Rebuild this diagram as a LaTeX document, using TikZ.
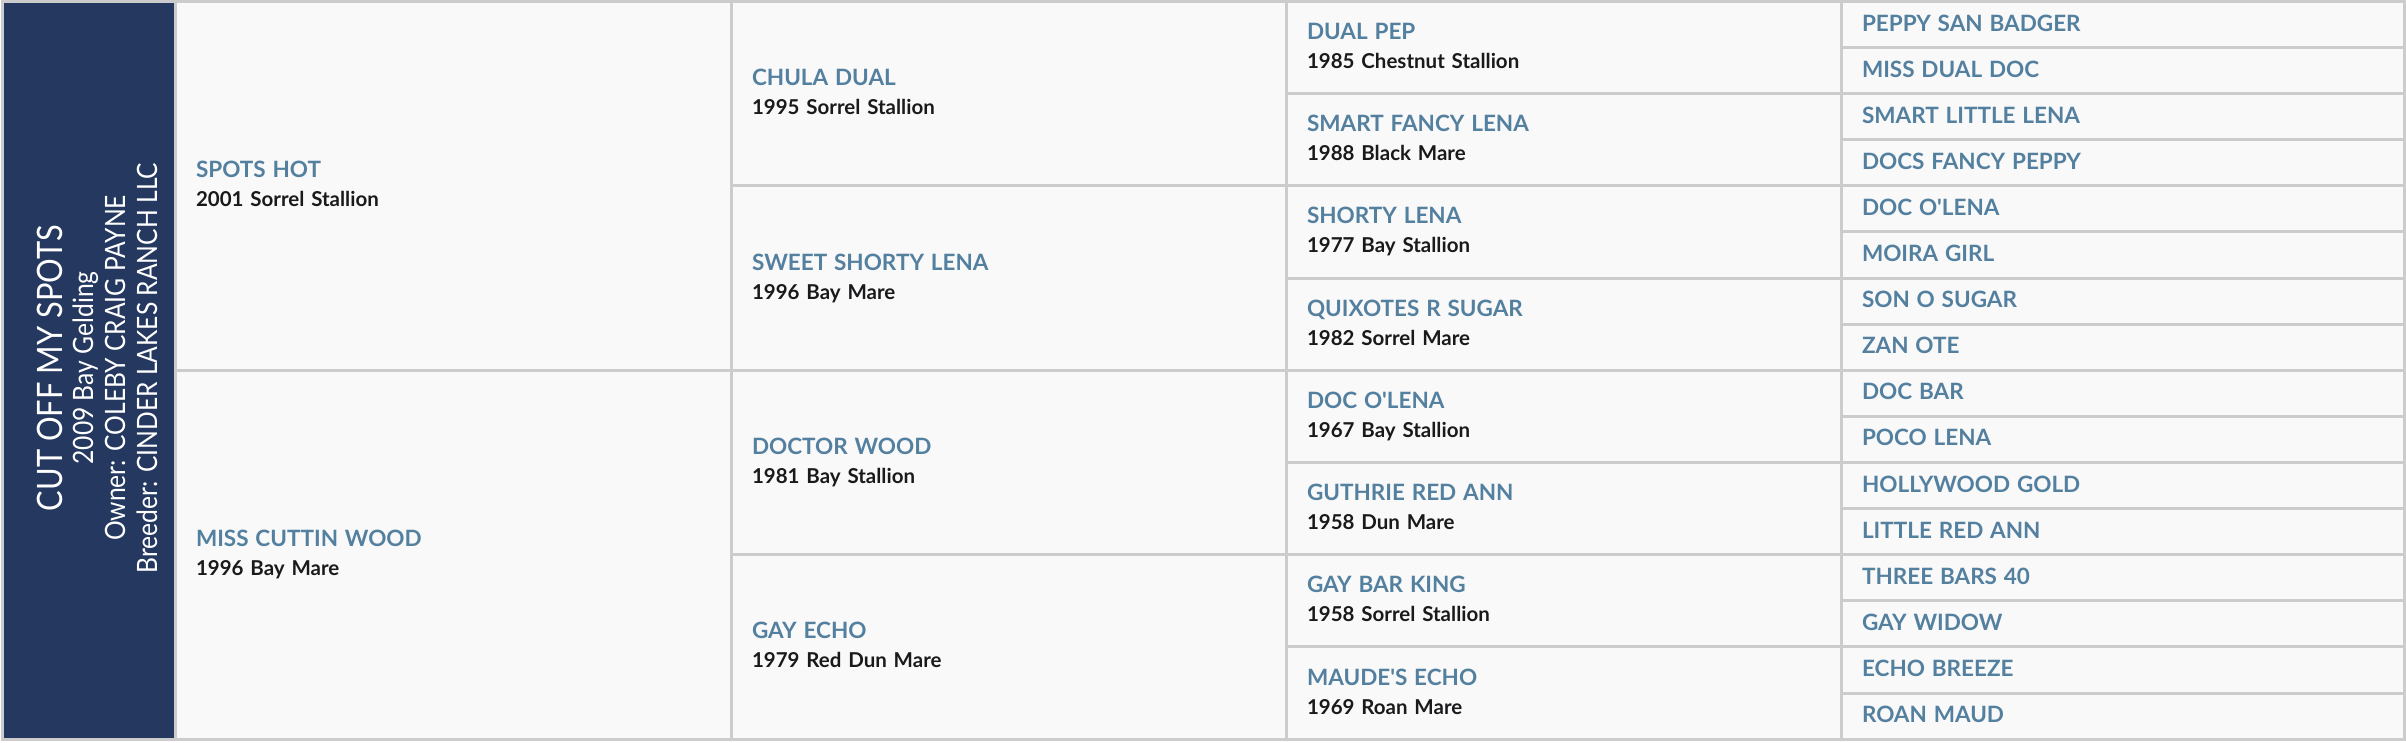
\documentclass[tikz,border=0pt]{standalone}
\usepackage{fontspec}
\setmainfont{Lato}[BoldFont={Lato Bold}]
\newfontfamily\panelfont[FakeStretch=0.88]{Lato}
\usetikzlibrary{positioning}

\definecolor{panel_navy}{RGB}{36,56,96}
\definecolor{name_blue}{RGB}{84,128,160}
\definecolor{info_black}{RGB}{26,26,28}
\definecolor{grid_grey}{RGB}{204,204,204}
\definecolor{cell_fill}{RGB}{249,249,249}

\newcommand{\horsename}[1]{{\color{name_blue}\fontsize{22.5}{29}\selectfont #1}}

\begin{document}
\begin{tikzpicture}[x=1pt, y=1pt,
    cell_box/.style ={rectangle, draw=grid_grey, line width=3pt, fill=cell_fill,
      anchor=north west, outer sep=0pt, inner xsep=21pt, inner ysep=0pt,
      align=left, text=info_black, text height=16pt, text depth=32pt,
      font=\bfseries\fontsize{20.5}{29}\selectfont},
    cell_gen1/.style ={cell_box, minimum width=556pt, text width=514pt, minimum height=368.8pt},
    cell_gen2/.style ={cell_box, minimum width=555pt, text width=513pt, minimum height=184.4pt},
    cell_gen3/.style ={cell_box, minimum width=555pt, text width=513pt, minimum height=92.2pt},
    cell_gen4/.style ={cell_box, minimum width=563pt, text width=521pt, minimum height=46.1pt,
      text depth=3pt},
    panel_text/.style ={rotate=90, anchor=base, text=white,
      font=\panelfont\fontsize{28}{32}\selectfont}]
    \useasboundingbox (0,0) rectangle (2406,742);
    \fill [white] (0,0) rectangle (2406,742);

    % the horse itself
    \node [rectangle, draw=grid_grey, line width=3pt, fill=panel_navy, anchor=north west,
      outer sep=0pt, minimum width=173pt, minimum height=737.6pt] (panel) at (2,740.5) {};
    \node [panel_text, font=\panelfont\fontsize{35}{40}\selectfont] (panel_title) at (62,374) {CUT OFF MY SPOTS};
    \node [panel_text] (panel_foal) at (93,374) {2009 Bay Gelding};
    \node [panel_text] (panel_owner) at (125,374) {Owner: COLEBY CRAIG PAYNE};
    \node [panel_text] (panel_breeder) at (157,374) {Breeder: CINDER LAKES RANCH LLC};

    % generation 1
    \node [cell_gen1] (sire) at (panel.north east) {\horsename{SPOTS HOT}\\2001 Sorrel Stallion};
    \node [cell_gen1] (dam) at (sire.south west) {\horsename{MISS CUTTIN WOOD}\\1996 Bay Mare};

    % generation 2
    \node [cell_gen2] (s_sire) at (sire.north east) {\horsename{CHULA DUAL}\\1995 Sorrel Stallion};
    \node [cell_gen2] (s_dam) at (s_sire.south west) {\horsename{SWEET SHORTY LENA}\\1996 Bay Mare};
    \node [cell_gen2] (d_sire) at (s_dam.south west) {\horsename{DOCTOR WOOD}\\1981 Bay Stallion};
    \node [cell_gen2] (d_dam) at (d_sire.south west) {\horsename{GAY ECHO}\\1979 Red Dun Mare};

    % generation 3
    \node [cell_gen3] (ss_sire) at (s_sire.north east) {\horsename{DUAL PEP}\\1985 Chestnut Stallion};
    \node [cell_gen3] (ss_dam) at (ss_sire.south west) {\horsename{SMART FANCY LENA}\\1988 Black Mare};
    \node [cell_gen3] (sd_sire) at (ss_dam.south west) {\horsename{SHORTY LENA}\\1977 Bay Stallion};
    \node [cell_gen3] (sd_dam) at (sd_sire.south west) {\horsename{QUIXOTES R SUGAR}\\1982 Sorrel Mare};
    \node [cell_gen3] (ds_sire) at (sd_dam.south west) {\horsename{DOC O\textquotesingle LENA}\\1967 Bay Stallion};
    \node [cell_gen3] (ds_dam) at (ds_sire.south west) {\horsename{GUTHRIE RED ANN}\\1958 Dun Mare};
    \node [cell_gen3] (dd_sire) at (ds_dam.south west) {\horsename{GAY BAR KING}\\1958 Sorrel Stallion};
    \node [cell_gen3] (dd_dam) at (dd_sire.south west) {\horsename{MAUDE\textquotesingle S ECHO}\\1969 Roan Mare};

    % generation 4
    \node [cell_gen4] (sss_sire) at (ss_sire.north east) {\horsename{PEPPY SAN BADGER}};
    \node [cell_gen4] (sss_dam) at (sss_sire.south west) {\horsename{MISS DUAL DOC}};
    \node [cell_gen4] (ssd_sire) at (sss_dam.south west) {\horsename{SMART LITTLE LENA}};
    \node [cell_gen4] (ssd_dam) at (ssd_sire.south west) {\horsename{DOCS FANCY PEPPY}};
    \node [cell_gen4] (sds_sire) at (ssd_dam.south west) {\horsename{DOC O\textquotesingle LENA}};
    \node [cell_gen4] (sds_dam) at (sds_sire.south west) {\horsename{MOIRA GIRL}};
    \node [cell_gen4] (sdd_sire) at (sds_dam.south west) {\horsename{SON O SUGAR}};
    \node [cell_gen4] (sdd_dam) at (sdd_sire.south west) {\horsename{ZAN OTE}};
    \node [cell_gen4] (dss_sire) at (sdd_dam.south west) {\horsename{DOC BAR}};
    \node [cell_gen4] (dss_dam) at (dss_sire.south west) {\horsename{POCO LENA}};
    \node [cell_gen4] (dsd_sire) at (dss_dam.south west) {\horsename{HOLLYWOOD GOLD}};
    \node [cell_gen4] (dsd_dam) at (dsd_sire.south west) {\horsename{LITTLE RED ANN}};
    \node [cell_gen4] (dds_sire) at (dsd_dam.south west) {\horsename{THREE BARS 40}};
    \node [cell_gen4] (dds_dam) at (dds_sire.south west) {\horsename{GAY WIDOW}};
    \node [cell_gen4] (ddd_sire) at (dds_dam.south west) {\horsename{ECHO BREEZE}};
    \node [cell_gen4] (ddd_dam) at (ddd_sire.south west) {\horsename{ROAN MAUD}};
\end{tikzpicture}
\end{document}
